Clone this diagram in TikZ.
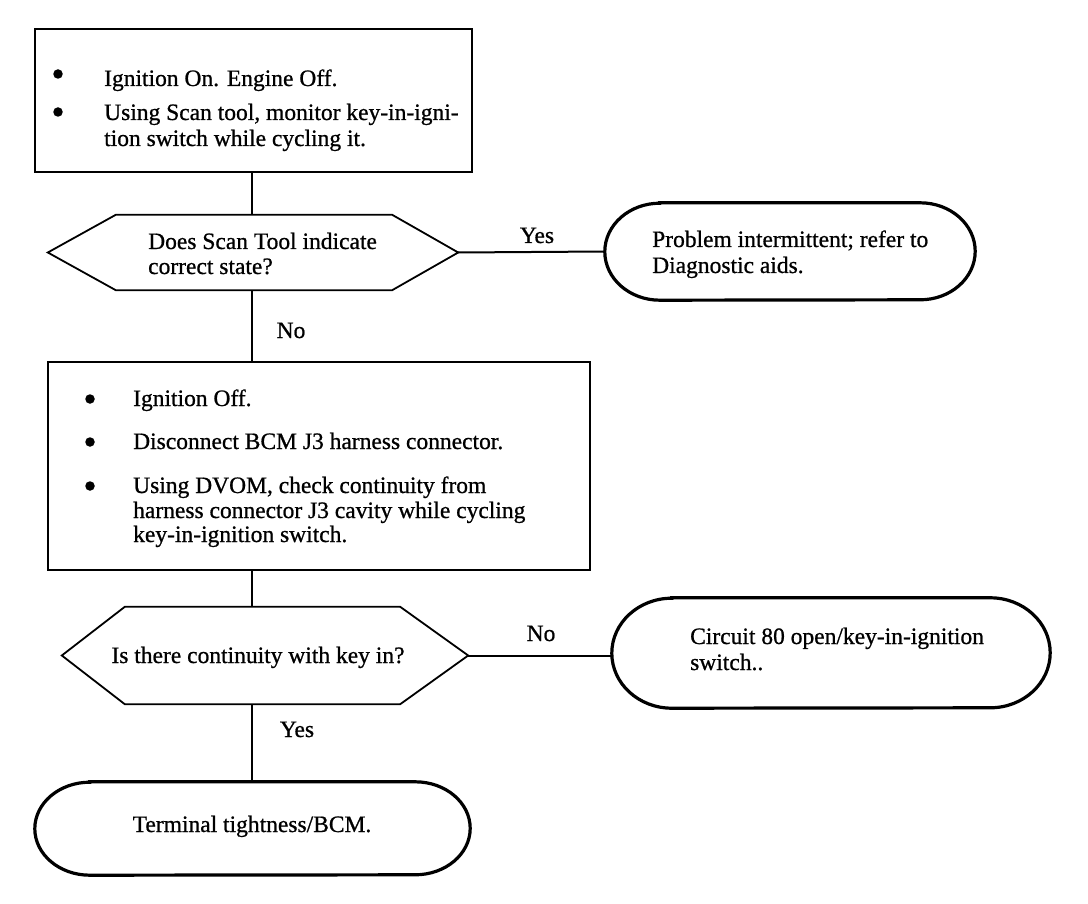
\documentclass[tikz,border=0pt]{standalone}
\usepackage{fontspec}
\setmainfont[FakeBold=0.8]{Liberation Serif}
\usetikzlibrary{calc}
\begin{document}
\begin{tikzpicture}[x=1pt,y=-1pt,
  txt/.style={font=\fontsize{23.5}{28}\selectfont, inner sep=0pt, anchor=base west},
  ctxt/.style={font=\fontsize{23.5}{28}\selectfont, inner sep=0pt, anchor=base},
  boxst/.style={draw, line width=2.8pt, inner sep=0pt},
  termbox/.style={inner sep=0pt},
  termline/.style={line width=3.2pt},
  hexbox/.style={inner sep=0pt},
  hexst/.style={line width=1.8pt, line join=miter},
  conn/.style={line width=2pt},
  bul/.style={circle, fill, inner sep=0pt, minimum size=9.5pt}]
\useasboundingbox (0,0) rectangle (1088,904);
\coordinate (spine) at (252,0);
\def\termdraw#1#2#3{% node, x radius, half height
  \draw[termline] ([xshift=#2]#1.north west) -- ([xshift=-#2]#1.north east)
    arc[start angle=90, end angle=-90, x radius=#2, y radius=#3]
    -- ([xshift=#2]#1.south west)
    arc[start angle=270, end angle=90, x radius=#2, y radius=#3] -- cycle;}

% box 1
\node[boxst, minimum width=437pt, minimum height=143pt] (box1) at (253.5,100.5) {};
\node[bul] (b11) at (58,74) {};
\node[bul] (b12) at (58,112) {};
\node[txt] (t11) at (104,86) {Ignition On. Engine Off.};
\node[txt] (t12) at (104,120) {Using Scan tool, monitor key-in-igni-};
\node[txt] (t13) at (104,146) {tion switch while cycling it.};

% hexagon 1
\node[hexbox, minimum width=410pt, minimum height=75pt] (hex1) at (253,252.5) {};
\draw[hexst] (hex1.west) -- ([xshift=68pt]hex1.north west) -- ([xshift=-66pt]hex1.north east) -- (hex1.east) -- ([xshift=-66pt]hex1.south east) -- ([xshift=68pt]hex1.south west) -- cycle;
\node[txt] (q11) at (148,249) {Does Scan Tool indicate};
\node[txt] (q12) at (148,274) {correct state?};

% terminal 1
\node[termbox, minimum width=370pt, minimum height=97pt] (term1) at (790,251.5) {};
\termdraw{term1}{55pt}{48.5pt}
\node[txt] (r11) at (652,247) {Problem intermittent; refer to};
\node[txt] (r12) at (652,273) {Diagnostic aids.};
\draw[conn] (hex1.east) -- (term1.west);
\node[ctxt] (yes1) at (537,243) {Yes};

% box 2
\node[boxst, minimum width=542pt, minimum height=208pt] (box2) at (319,466) {};
\node[bul] (b21) at (90,399) {};
\node[bul] (b22) at (90,442) {};
\node[bul] (b23) at (90,486) {};
\node[txt] (t21) at (133,406) {Ignition Off.};
\node[txt] (t22) at (133,449) {Disconnect BCM J3 harness connector.};
\node[txt] (t23) at (133,493) {Using DVOM, check continuity from};
\node[txt] (t24) at (133,518) {harness connector J3 cavity while cycling};
\node[txt] (t25) at (133,542) {key-in-ignition switch.};

\draw[conn] (box1.south -| spine) -- (hex1.north -| spine);
\draw[conn] (hex1.south -| spine) -- (box2.north -| spine);
\node[ctxt] (no1) at (291,338) {No};

% hexagon 2
\node[hexbox, minimum width=406pt, minimum height=97pt] (hex2) at (265,655.5) {};
\draw[hexst] (hex2.west) -- ([xshift=63pt]hex2.north west) -- ([xshift=-68pt]hex2.north east) -- (hex2.east) -- ([xshift=-68pt]hex2.south east) -- ([xshift=63pt]hex2.south west) -- cycle;
\node[ctxt] (q2) at (258,663) {Is there continuity with key in?};
\draw[conn] (box2.south -| spine) -- (hex2.north -| spine);

% terminal 2
\node[termbox, minimum width=438pt, minimum height=110pt] (term2) at (831,653) {};
\termdraw{term2}{60pt}{55pt}
\node[txt] (r21) at (690,644) {Circuit 80 open/key-in-ignition};
\node[txt] (r22) at (690,670) {switch..};
\draw[conn] (hex2.east) -- (hex2.east -| term2.west);
\node[ctxt] (no2) at (541,641) {No};

% terminal 3
\node[termbox, minimum width=435pt, minimum height=93pt] (term3) at (252.5,828.5) {};
\termdraw{term3}{55pt}{46.5pt}
\node[ctxt] (r3) at (252,832) {Terminal tightness/BCM.};
\draw[conn] (hex2.south -| spine) -- (term3.north -| spine);
\node[ctxt] (yes2) at (297,737) {Yes};
\end{tikzpicture}
\end{document}
